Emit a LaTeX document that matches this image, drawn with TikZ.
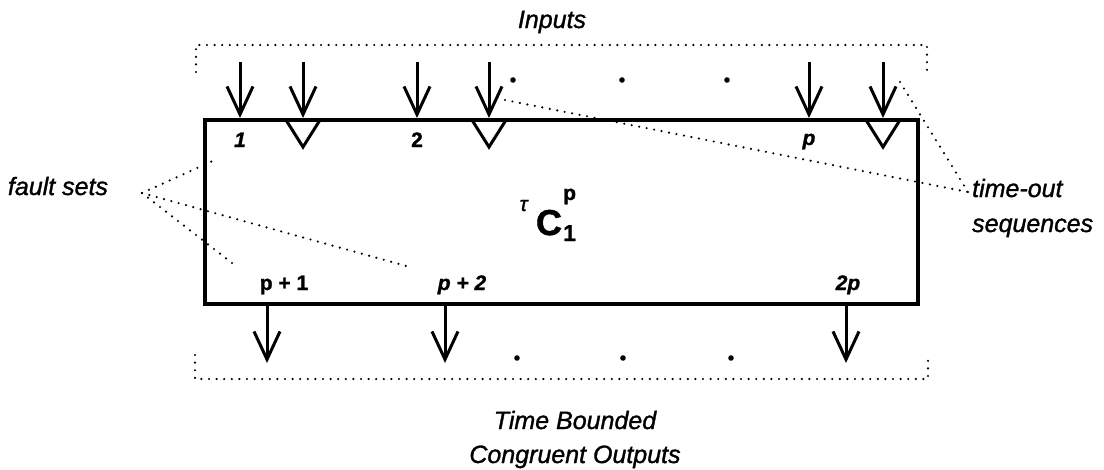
\documentclass[tikz,border=0pt]{standalone}
\usepackage{fontspec}
\setmainfont{Liberation Sans}[FakeBold=1.2]
\usetikzlibrary{arrows.meta}

\tikzset{
    outlbl/.style={font=\fontsize{25}{30}\selectfont\itshape, inner sep=0pt},
    portlbl/.style={font=\fontsize{21}{25}\selectfont\bfseries, inner sep=0pt, anchor=base},
    portlblit/.style={portlbl, font=\fontsize{21}{25}\selectfont\bfseries\itshape},
    dotline/.style={line width=2.4pt, line cap=round, dash pattern=on 0pt off 7.6pt},
    flow/.style={->, line width=3pt}
}

\begin{document}
\begin{tikzpicture}[x=1pt, y=-1pt, >={Straight Barb[length=28pt, width=26pt]}]

    \useasboundingbox (0,0) rectangle (1104,469);

    % bloc
    \node[
        draw,
        line width=4pt,
        minimum width=713pt,
        minimum height=184pt,
        inner sep=0pt
    ] (blk) at (561.5,212) {};

    % entrades
    \foreach \x in {240,303,417,489,809,883} {
        \coordinate (in\x) at (\x,62);
        \draw[flow] (in\x) -- (in\x |- blk.north);
    }
    \foreach \x in {303,489,883}
        \draw[line width=3pt] (\x-17,120) -- (\x,147) -- (\x+17,120);
    \foreach \x in {513,622,727}
        \fill (\x,80) circle (2.8pt);

    % sortides
    \foreach \x in {267,445,846} {
        \coordinate (out\x) at (\x,363);
        \draw[flow] (out\x |- blk.south) -- (out\x);
    }
    \foreach \x in {517,623,731}
        \fill (\x,358) circle (2.8pt);

    % claudators
    \draw[dotline] (196,72) -- (196,45) -- (927,45) -- (927,72);
    \draw[dotline] (195,355) -- (195,379) -- (928,379) -- (928,355);

    % etiquetes dels ports
    \node[portlblit] (lone) at (240,147) {1};
    \node[portlbl] (ltwo) at (417,147) {2};
    \node[portlblit] (lp) at (809,145) {p};
    \node[portlbl] (lpone) at (284,290) {p + 1};
    \node[portlblit] (lptwo) at (462,290) {p + 2};
    \node[portlblit] (ltwop) at (848,290) {2p};

    % nom del bloc
    \node[anchor=base, inner sep=0pt, font=\fontsize{36}{40}\selectfont\bfseries] (cbig) at (549,235) {C};
    \node[anchor=base east, inner sep=0pt, font=\fontsize{21}{24}\selectfont\itshape] (ctau) at (cbig.base west) [yshift=24pt, xshift=-8pt] {τ};
    \node[anchor=base west, inner sep=0pt, font=\fontsize{21}{24}\selectfont\bfseries] (csup) at (563,200) {p};
    \node[anchor=base west, inner sep=0pt, font=\fontsize{23}{26}\selectfont\bfseries] (csub) at (563,241) {1};

    % textos exteriors
    \node[outlbl, anchor=base] (inputs) at (552,28) {Inputs};
    \node[outlbl, anchor=base] (timeb) at (575,429) {Time Bounded};
    \node[outlbl, anchor=base] (congr) at (575,463) {Congruent Outputs};
    \node[outlbl, anchor=base] (fault) at (58,195) {fault sets};
    \node[outlbl, anchor=base west] (tout) at (972,197) {time-out};
    \node[outlbl, anchor=base west] (tseq) at (972,232) {sequences};

    % conjunts de fallada
    \coordinate (fsapex) at (142,193);
    \coordinate (fsa) at (217,159);
    \coordinate (fsb) at (410,267);
    \coordinate (fsc) at (232,263);
    \foreach \e in {fsa,fsb,fsc}
        \draw[dotline] (fsapex) -- (\e);

    % sequencies de temps
    \coordinate (toapex) at (968,192);
    \coordinate (toa) at (505,100);
    \coordinate (tob) at (900,82);
    \draw[dotline] (toa) -- (toapex);
    \draw[dotline] (tob) -- (toapex);

\end{tikzpicture}
\end{document}
